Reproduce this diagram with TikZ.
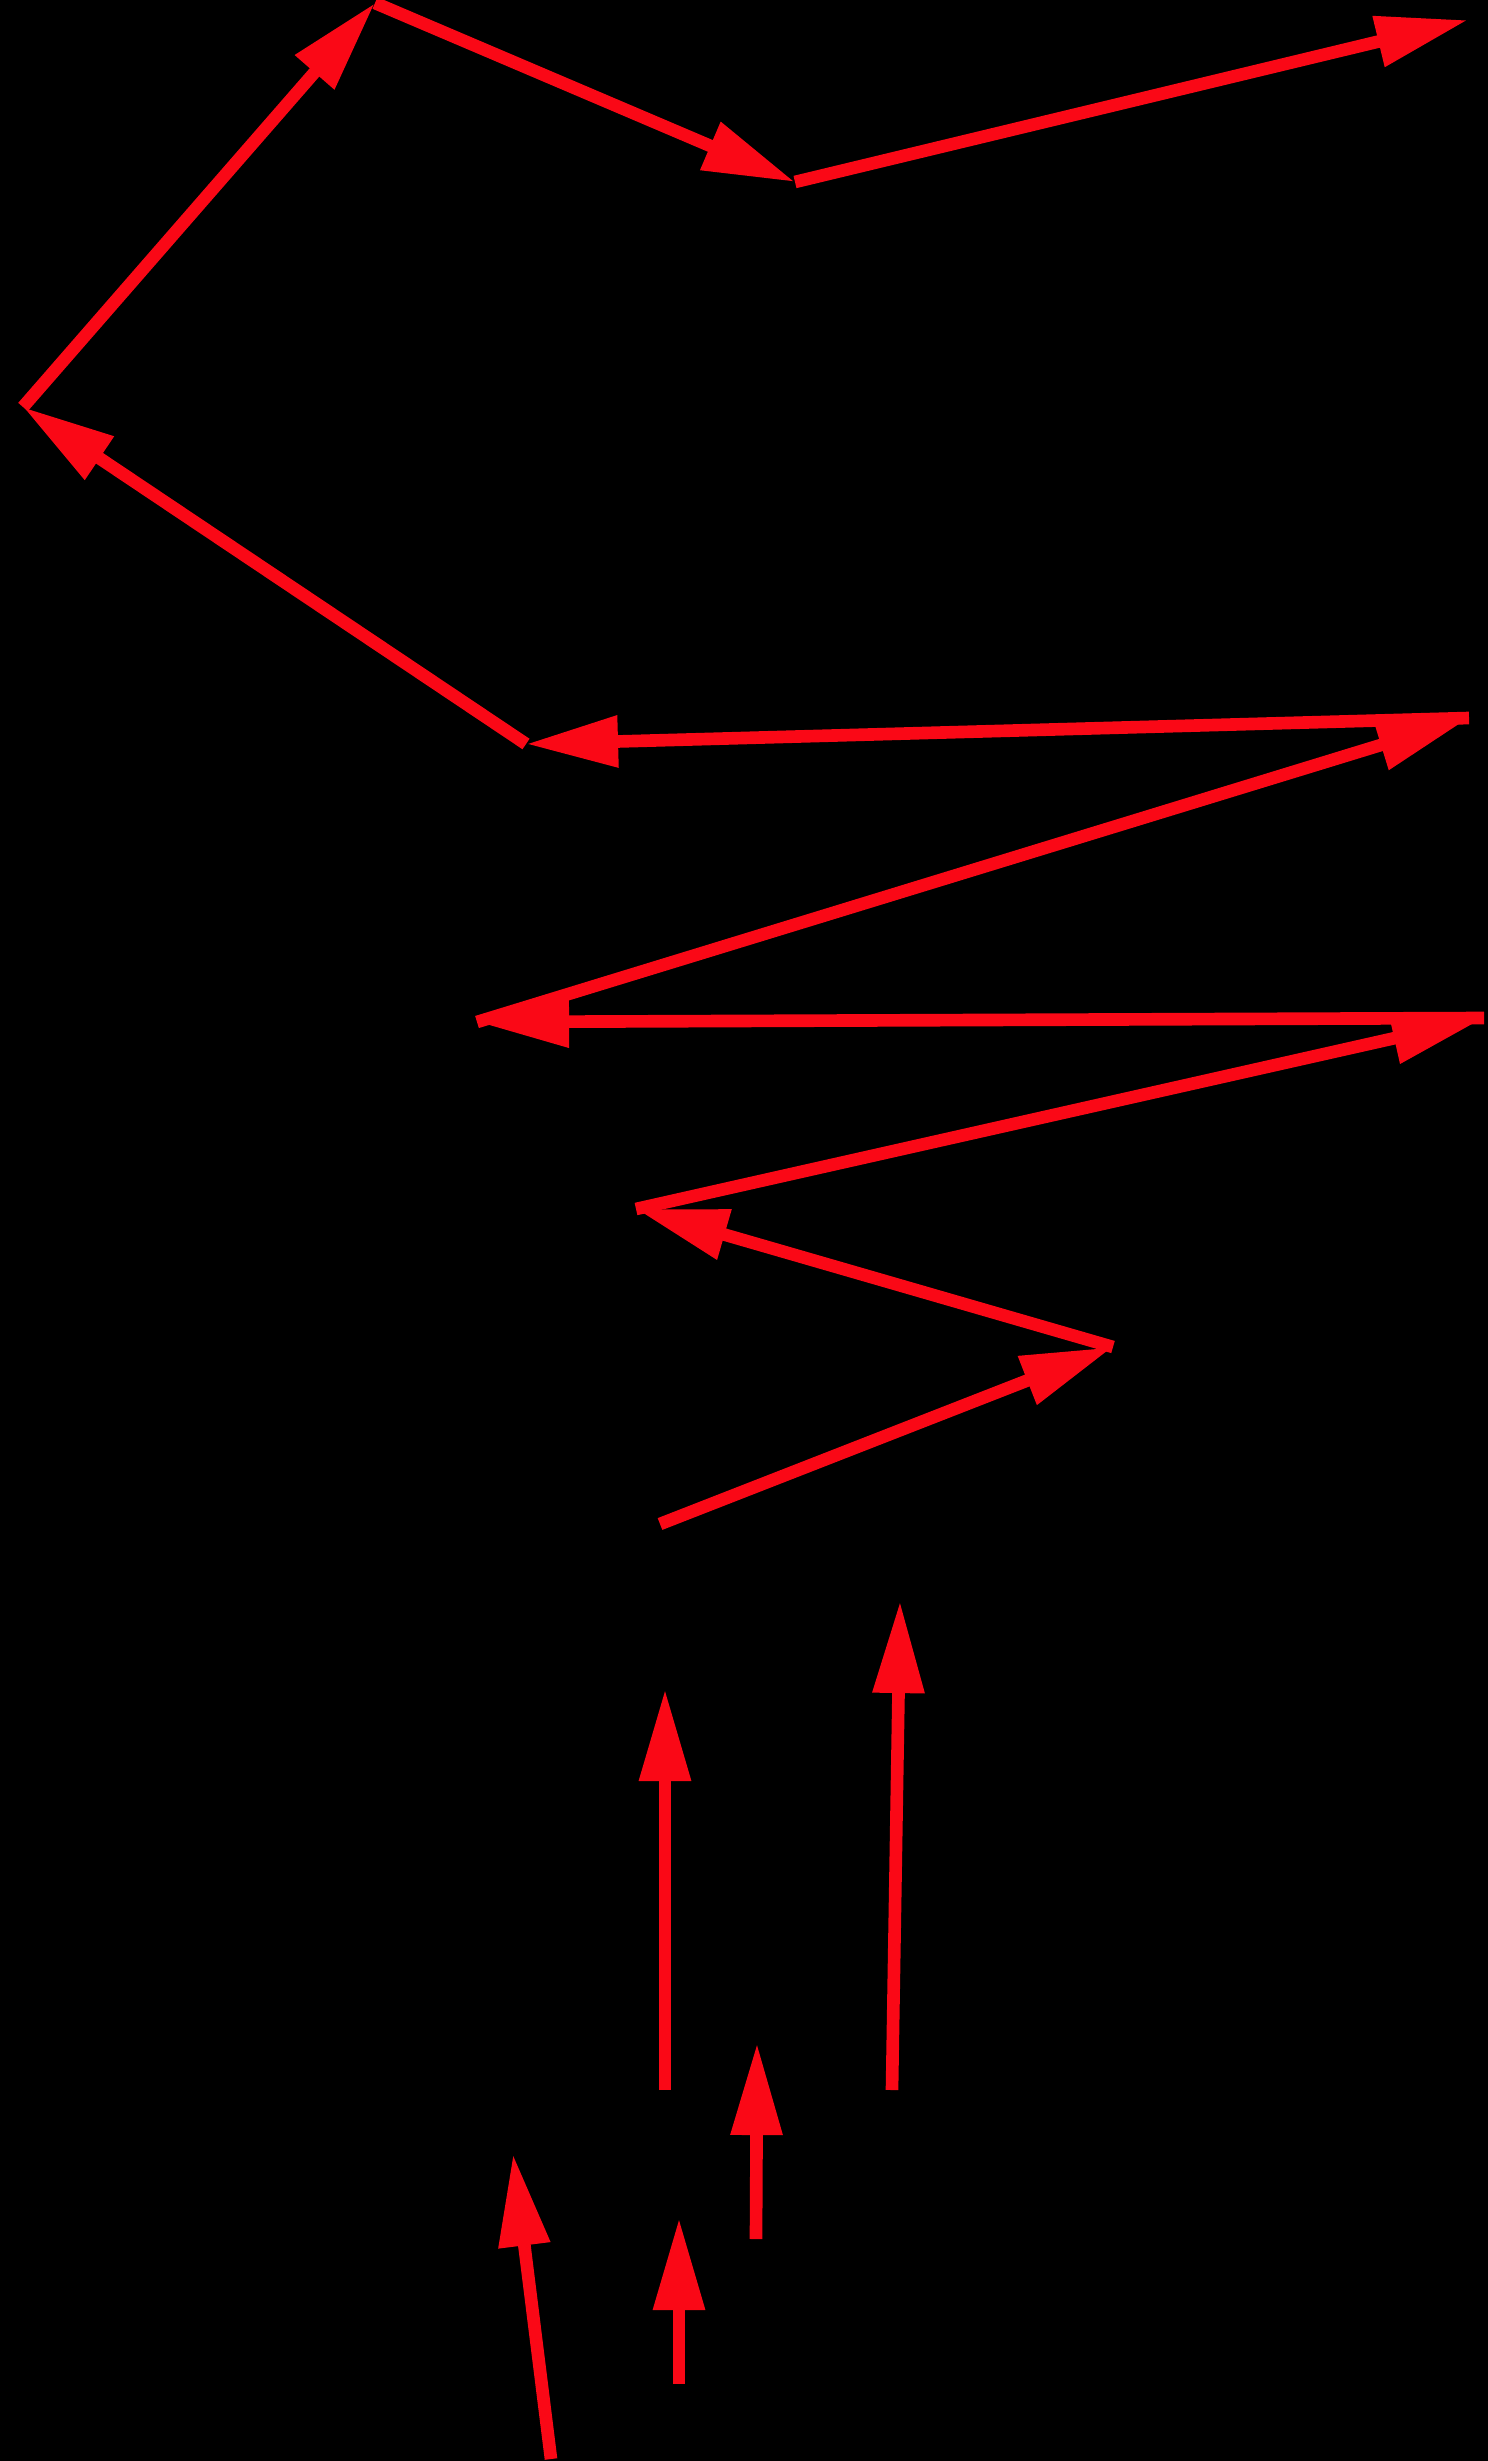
\documentclass[tikz,border=0pt]{standalone}
\usepackage{tikz}
\usetikzlibrary{arrows.meta}
\definecolor{vred}{RGB}{250,8,22}

\begin{document}
\begin{tikzpicture}[
  x=0.01cm,y=-0.01cm,
  vec/.style={-{Triangle[length=9.2mm,width=4.9mm]},line width=3.6pt,color=vred}]

  \useasboundingbox (0,0) rectangle (1487,2461);
  \fill[black] (-20,-20) rectangle (1507,2481);

  % walk, tail to tip
  \coordinate (w0) at (660,1524);
  \coordinate (w1) at (1113,1347);
  \coordinate (w2) at (636,1209);
  \coordinate (w3) at (1484,1018);
  \coordinate (w4) at (477,1022);
  \coordinate (w5) at (1469,718);
  \coordinate (w6) at (526,744);
  \coordinate (w7) at (23,407);
  \coordinate (w8) at (375,3);
  \coordinate (w9) at (795,182);
  \coordinate (w10) at (1468,20);

  \draw[vec] (w0) -- (w1);
  \draw[vec] (w1) -- (w2);
  \draw[vec] (w2) -- (w3);
  \draw[vec] (w3) -- (w4);
  \draw[vec] (w4) -- (w5);
  \draw[vec] (w5) -- (w6);
  \draw[vec] (w6) -- (w7);
  \draw[vec] (w7) -- (w8);
  \draw[vec] (w8) -- (w9);
  \draw[vec] (w9) -- (w10);

  % single vectors
  \coordinate (a0) at (665,2090);  \coordinate (a1) at (665,1689);
  \coordinate (b0) at (892,2090);  \coordinate (b1) at (900,1601);
  \coordinate (c0) at (756,2239);  \coordinate (c1) at (757,2043);
  \coordinate (d0) at (551,2459);  \coordinate (d1) at (513,2154);
  \coordinate (e0) at (679,2384);  \coordinate (e1) at (679,2218);

  \draw[vec] (a0) -- (a1);
  \draw[vec] (b0) -- (b1);
  \draw[vec] (c0) -- (c1);
  \draw[vec] (d0) -- (d1);
  \draw[vec] (e0) -- (e1);
\end{tikzpicture}
\end{document}
